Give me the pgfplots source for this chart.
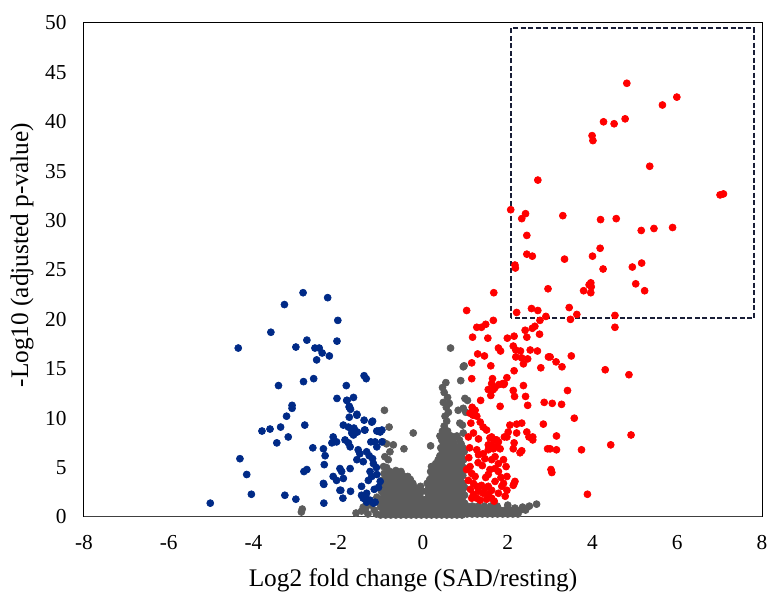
\documentclass[border=0pt]{standalone}
\usepackage{pgfplots}
\pgfplotsset{compat=1.18}
\usepackage{fontspec}
\setmainfont{Liberation Serif}
\definecolor{redc}{RGB}{255,0,0}
\definecolor{bluec}{RGB}{0,42,135}
\definecolor{grayc}{RGB}{92,92,92}
\definecolor{boxc}{RGB}{25,30,55}
\definecolor{axisc}{RGB}{64,64,64}
\begin{document}
\begin{tikzpicture}
\begin{axis}[
 scale only axis, width=406.8pt, height=296.4pt,
 xmin=-8, xmax=8, ymin=0, ymax=50,
 xtick={-8,-6,-4,-2,0,2,4,6,8}, xticklabels={-8,-6,-4,-2,0,2,4,6,8},
 ytick={0,5,10,15,20,25,30,35,40,45,50}, yticklabels={0,5,10,15,20,25,30,35,40,45,50},
 major tick length=0pt,
 axis line style={line width=0.6pt, black},
 ticklabel style={font=\fontsize{12.8}{14}\selectfont},
 xticklabel style={yshift=-7.5pt},
 yticklabel style={xshift=-7pt},
 xlabel={Log2 fold change (SAD/resting)},
 ylabel={-Log10 (adjusted p-value)},
 label style={font=\fontsize{15.2}{17}\selectfont},
 xlabel style={at={(axis description cs:0.4853,-0.1417)}, anchor=base},
 ylabel style={at={(axis description cs:-0.0914,0.53)}, anchor=center},
 every axis plot/.append style={only marks, mark=*, mark size=2.1pt},
]
% gray: not significant
\addplot[color=grayc, mark options={draw=none, fill=grayc}] coordinates {
(-1.58,0.4)(-1.45,0.6)(-1.35,0.9)(-1.30,0.3)(-1.22,1.2)(-1.15,0.7)(-1.10,0.3)(-1.05,1.5)
(-1.41,1.0)(-1.25,1.4)(-1.09,2.0)(-1.01,3.1)(-0.97,3.7)(-0.93,5.1)(-0.82,5.8)(-0.90,6.1)
(-0.78,6.6)(-0.86,7.4)(-0.94,7.6)(-0.80,9.1)(-0.91,10.8)(-0.70,7.3)(-0.45,6.9)(-0.23,8.5)
(-2.87,0.5)(-2.85,0.8)
(-1.0,0.2)(-0.88,0.2)(-0.76,0.2)(-0.64,0.2)(-0.52,0.2)(-0.40,0.2)(-0.28,0.2)(-0.16,0.2)(-0.04,0.2)
(-0.94,0.6)(-0.82,0.6)(-0.70,0.6)(-0.58,0.6)(-0.46,0.6)(-0.34,0.6)(-0.22,0.6)(-0.10,0.6)
(-1.0,1.0)(-0.88,1.0)(-0.76,1.0)(-0.64,1.0)(-0.52,1.0)(-0.40,1.0)(-0.28,1.0)(-0.16,1.0)(-0.04,1.0)
(-0.94,1.4)(-0.82,1.4)(-0.70,1.4)(-0.58,1.4)(-0.46,1.4)(-0.34,1.4)(-0.22,1.4)(-0.10,1.4)
(-0.98,1.8)(-0.86,1.8)(-0.74,1.8)(-0.62,1.8)(-0.50,1.8)(-0.38,1.8)(-0.26,1.8)(-0.14,1.8)(-0.02,1.8)
(-0.92,2.2)(-0.80,2.2)(-0.68,2.2)(-0.56,2.2)(-0.44,2.2)(-0.32,2.2)(-0.20,2.2)(-0.08,2.2)
(-0.98,2.6)(-0.86,2.6)(-0.74,2.6)(-0.62,2.6)(-0.50,2.6)(-0.38,2.6)(-0.26,2.6)(-0.14,2.6)(-0.02,2.6)
(-0.92,3.0)(-0.80,3.0)(-0.68,3.0)(-0.56,3.0)(-0.44,3.0)(-0.32,3.0)(-0.20,3.0)(-0.06,3.1)
(-0.96,3.4)(-0.84,3.4)(-0.72,3.4)(-0.60,3.4)(-0.48,3.4)(-0.36,3.4)(-0.24,3.4)
(-0.90,3.8)(-0.78,3.8)(-0.66,3.8)(-0.54,3.8)(-0.42,3.8)(-0.30,3.8)
(-0.92,4.4)(-0.84,4.2)(-0.72,4.2)(-0.60,4.2)(-0.48,4.2)(-0.36,4.1)
(-0.78,4.6)(-0.64,4.7)(-0.52,4.6)(-0.86,5.0)
(0.08,0.2)(0.20,0.2)(0.32,0.2)(0.44,0.2)(0.56,0.2)(0.68,0.2)(0.80,0.2)(0.92,0.2)
(0.02,0.6)(0.14,0.6)(0.26,0.6)(0.38,0.6)(0.50,0.6)(0.62,0.6)(0.74,0.6)(0.86,0.6)(0.98,0.6)
(0.08,1.0)(0.20,1.0)(0.32,1.0)(0.44,1.0)(0.56,1.0)(0.68,1.0)(0.80,1.0)(0.92,1.0)
(0.02,1.4)(0.14,1.4)(0.26,1.4)(0.38,1.4)(0.50,1.4)(0.62,1.4)(0.74,1.4)(0.86,1.4)(0.98,1.4)
(0.08,1.8)(0.20,1.8)(0.32,1.8)(0.44,1.8)(0.56,1.8)(0.68,1.8)(0.80,1.8)(0.92,1.8)
(0.14,2.2)(0.26,2.2)(0.38,2.2)(0.50,2.2)(0.62,2.2)(0.74,2.2)(0.86,2.2)(0.98,2.2)
(0.08,2.6)(0.20,2.6)(0.32,2.6)(0.44,2.6)(0.56,2.6)(0.68,2.6)(0.80,2.6)(0.92,2.6)
(0.14,3.0)(0.26,3.0)(0.38,3.0)(0.50,3.0)(0.62,3.0)(0.74,3.0)(0.86,3.0)(0.98,3.0)
(0.10,3.4)(0.22,3.4)(0.34,3.4)(0.46,3.4)(0.58,3.4)(0.70,3.4)(0.82,3.4)(0.94,3.4)
(0.16,3.8)(0.28,3.8)(0.40,3.8)(0.52,3.8)(0.64,3.8)(0.76,3.8)(0.88,3.8)
(0.22,4.2)(0.34,4.2)(0.46,4.2)(0.58,4.2)(0.70,4.2)(0.82,4.2)(0.94,4.2)
(0.18,4.6)(0.30,4.6)(0.42,4.6)(0.54,4.6)(0.66,4.6)(0.78,4.6)(0.90,4.6)
(0.24,5.0)(0.36,5.0)(0.48,5.0)(0.60,5.0)(0.72,5.0)(0.84,5.0)(0.96,5.0)
(0.30,5.4)(0.42,5.4)(0.54,5.4)(0.66,5.4)(0.78,5.4)(0.90,5.4)
(0.36,5.8)(0.48,5.8)(0.60,5.8)(0.72,5.8)(0.84,5.8)(0.96,5.8)
(0.40,6.2)(0.52,6.2)(0.64,6.2)(0.76,6.2)(0.90,6.2)
(0.46,6.6)(0.58,6.6)(0.70,6.6)(0.84,6.6)(0.97,6.6)
(0.42,7.0)(0.54,7.0)(0.66,7.0)(0.80,7.0)(0.94,7.0)
(0.48,7.4)(0.60,7.4)(0.74,7.4)(0.90,7.4)
(0.44,7.8)(0.56,7.8)(0.70,7.8)(0.86,7.8)
(0.40,8.2)(0.52,8.2)(0.66,8.2)(0.80,8.2)(0.95,8.5)
(0.46,8.7)(0.58,8.7)
(0.50,9.2)(0.56,9.7)(0.52,10.2)(0.60,10.6)(0.55,11.1)(0.48,11.6)(0.58,12.1)(0.50,12.6)
(0.46,13.1)(0.54,13.6)(0.62,11.5)(0.83,10.8)(0.95,11.0)(1.01,10.6)(0.87,9.5)(0.93,9.3)
(0.99,12.0)(1.05,11.8)(0.89,13.8)(0.97,15.3)(0.95,15.2)(0.65,17.1)(0.18,7.2)(0.20,5.1)
(1.04,0.3)(1.16,0.3)(1.28,0.3)(1.40,0.3)(1.52,0.3)(1.64,0.3)(1.76,0.3)(1.88,0.3)(2.00,0.3)(2.12,0.3)(2.24,0.3)
(1.10,0.7)(1.22,0.7)(1.34,0.7)(1.46,0.7)(1.58,0.7)(1.70,0.7)(1.82,0.7)(1.94,0.7)(2.06,0.7)(2.18,0.7)(2.30,0.7)(2.42,0.7)
(1.04,1.1)(1.16,1.1)(1.30,1.1)(1.45,1.1)(1.60,1.1)(1.75,1.1)(2.00,1.2)(2.17,0.9)(2.35,1.0)(2.51,1.1)(2.68,1.3)
};
% blue: down-regulated
\addplot[color=bluec, mark options={draw=none, fill=bluec}] coordinates {
(-2.83,22.7)(-2.25,22.2)(-3.27,21.5)(-2.01,19.9)(-3.59,18.7)(-2.74,17.9)(-2.03,17.8)(-4.36,17.1)
(-3.00,17.2)(-2.55,17.1)(-2.45,17.1)(-2.38,16.6)(-2.51,15.9)(-2.21,16.3)(-1.39,14.3)(-1.34,14.0)
(-3.41,13.3)(-2.82,13.7)(-2.58,14.0)(-1.81,13.3)(-2.03,12.0)(-1.79,11.8)(-1.64,12.1)(-3.09,11.3)
(-3.09,11.0)(-1.74,11.2)(-1.71,10.9)(-3.22,10.2)(-1.56,10.4)(-1.74,10.1)(-1.39,9.8)(-1.19,9.7)
(-3.80,8.7)(-3.61,8.9)(-3.36,9.1)(-2.79,9.3)(-1.88,9.3)(-1.76,9.1)(-1.63,9.0)(-1.68,8.5)
(-1.55,8.6)(-1.38,8.8)(-1.09,8.7)(-0.97,8.8)(-3.45,7.5)(-3.18,8.1)(-2.60,7.0)(-2.35,6.9)
(-2.31,6.2)(-4.32,5.9)(-2.33,5.3)(-2.74,4.8)(-2.81,4.6)(-4.16,4.3)(-2.34,3.3)(-1.94,2.7)
(-1.71,2.6)(-1.89,1.9)(-4.05,2.3)(-3.26,2.2)(-3.00,1.8)(-2.34,1.4)(-5.02,1.4)
(-1.80,11.8)(-1.74,11.1)(-1.56,10.3)(-1.21,9.6)(-1.68,8.8)(-1.60,8.6)(-1.64,8.3)(-1.37,8.8)
(-1.05,8.7)(-1.01,8.6)(-2.12,8.1)(-2.04,7.6)(-2.15,7.5)(-1.84,7.8)(-1.76,7.5)(-1.72,7.1)
(-1.53,6.8)(-1.49,6.4)(-1.33,6.6)(-1.27,6.2)(-1.19,5.9)(-1.17,5.4)(-1.41,5.6)(-1.56,5.8)
(-1.09,7.1)(-1.13,7.6)(-0.97,7.6)(-1.23,7.6)(-1.96,4.9)(-1.92,4.6)(-2.12,4.1)(-2.04,3.7)
(-1.88,3.9)(-1.72,4.9)(-1.25,4.6)(-1.21,4.1)(-1.29,3.7)(-1.09,4.3)(-1.01,3.6)(-2.35,3.4)
(-1.96,2.7)(-1.45,2.2)(-1.33,2.4)(-1.41,1.9)(-1.33,1.5)(-1.25,1.7)(-1.17,1.4)(-1.35,2.0)
(-1.13,1.5)(-1.05,3.0)(-1.15,2.8)(-1.10,5.0)(-1.45,3.1)
};
% red: up-regulated
\addplot[color=redc, mark options={draw=none, fill=redc}] coordinates {
(4.81,43.9)(5.99,42.5)(5.65,41.7)(4.26,40.0)(4.51,39.8)(4.77,40.3)(3.99,38.6)(4.01,38.1)
(5.35,35.5)(2.71,34.1)(7.01,32.6)(7.09,32.7)(2.07,31.1)(2.42,30.7)(2.33,30.2)(3.30,30.5)
(4.19,30.1)(4.56,30.2)(5.15,29.0)(5.45,29.2)(5.89,29.3)(2.45,28.5)(4.18,27.2)(4.00,26.4)
(2.45,26.6)(2.58,26.4)(3.34,26.1)(5.16,25.7)(4.94,25.3)(4.25,25.1)(2.17,25.5)(2.18,25.2)
(3.96,23.7)(3.92,23.5)(3.97,23.3)(3.96,22.7)(3.79,22.9)(5.02,23.6)(5.23,22.9)(2.95,23.1)
(1.67,22.7)
(2.21,20.7)(2.56,21.1)(2.71,20.9)(3.45,21.2)(3.63,20.5)(4.53,20.4)(2.90,20.3)(2.76,19.9)
(3.48,20.0)(4.53,19.2)(1.66,19.9)(1.48,19.5)(1.38,19.2)(1.27,19.2)(1.03,20.9)
(2.41,18.9)(2.58,19.1)(2.64,19.3)(1.53,18.1)(1.17,18.2)(1.99,18.1)(2.15,18.3)(2.45,18.2)(2.75,18.5)
(1.78,17.1)(1.83,16.8)(2.13,17.3)(2.19,16.9)(2.30,16.8)(2.53,16.9)(2.70,16.8)(1.29,16.5)
(1.45,16.3)(2.19,16.2)(2.33,16.1)(2.47,16.0)(2.96,16.2)(3.00,16.2)(3.50,16.3)(3.14,15.7)(3.28,15.2)
(1.15,15.6)(1.60,15.3)(2.37,15.5)(2.78,15.1)(2.15,14.8)(4.30,14.9)(4.86,14.4)(1.15,14.0)
(1.98,14.1)(1.64,14.0)(1.88,13.5)
(1.62,13.5)(1.79,13.4)(1.90,13.4)(2.37,13.3)(1.54,12.9)(1.66,12.9)(1.60,12.3)(1.92,13.5)
(2.13,12.8)(2.16,12.2)(2.42,12.2)(3.41,12.8)(1.70,13.1)
(1.36,11.8)(2.86,11.6)(3.05,11.5)(3.27,11.4)(1.82,11.2)(2.47,11.3)(1.16,11.1)(1.23,10.8)
(1.11,10.5)(1.27,10.2)(1.18,10.3)(3.57,10.0)
(1.13,9.5)(1.35,9.6)(1.42,9.1)(1.50,8.8)(2.05,9.3)(2.21,9.4)(2.33,9.5)(2.84,9.4)
(2.01,8.6)(2.21,8.5)(2.45,8.6)(2.59,7.8)(2.50,8.1)(1.92,8.1)(2.15,7.5)(3.15,8.2)
(1.07,8.1)(1.19,8.5)(1.31,7.9)(1.62,8.1)(1.74,7.8)(4.91,8.3)(1.98,8.1)(2.59,8.1)
(1.58,8.0)(1.70,7.8)(1.78,7.6)(1.62,7.3)(1.54,6.8)(1.74,7.1)(1.82,6.9)(1.54,7.3)
(1.66,6.9)(1.42,6.4)(1.27,6.8)(2.33,6.7)(2.29,6.5)(2.94,6.9)(3.15,6.8)(3.00,6.9)
(3.74,6.8)(4.43,7.3)(2.13,6.9)
(1.31,6.3)(1.46,5.9)(1.62,5.8)(1.70,6.1)(1.78,5.4)(1.11,5.1)(1.03,4.8)(1.15,4.4)
(1.23,4.1)(1.54,4.3)(1.58,4.8)(1.70,4.9)(1.78,4.6)(1.96,5.1)(1.98,4.1)(3.02,4.8)
(3.04,4.5)(1.40,5.2)(1.90,5.8)
(1.07,3.7)(1.19,3.4)(2.17,3.6)(2.13,3.2)(2.15,3.4)(1.27,3.1)(1.38,3.2)(1.46,2.9)
(1.54,3.1)(1.62,2.7)(1.31,2.6)(1.42,2.4)(1.54,2.3)(1.19,2.3)(1.15,1.9)(1.27,1.9)
(1.35,1.7)(1.50,1.8)(1.62,1.9)(1.78,2.4)(1.94,2.1)(1.98,2.7)(1.90,3.4)(1.86,3.1)
(3.88,2.3)(1.70,3.6)(1.84,4.0)(1.08,6.0)(1.10,7.0)(1.30,5.5)(1.48,4.0)(1.68,1.6)(1.12,2.8)
};
\draw[boxc, dash pattern=on 3pt off 1.5pt, line width=1.1pt] (axis cs:2.07,20.1) rectangle (axis cs:7.81,49.46);
\draw[line width=1.4pt, axisc] (axis cs:-8,0) -- (axis cs:8,0);
\coordinate (sw) at (rel axis cs:0,0);
\coordinate (ne) at (rel axis cs:1,1);
\end{axis}
\pgfresetboundingbox
\path ([shift={(-50.4pt,-45pt)}]sw) rectangle ([shift={(4.2pt,13.8pt)}]ne);
\end{tikzpicture}
\end{document}
